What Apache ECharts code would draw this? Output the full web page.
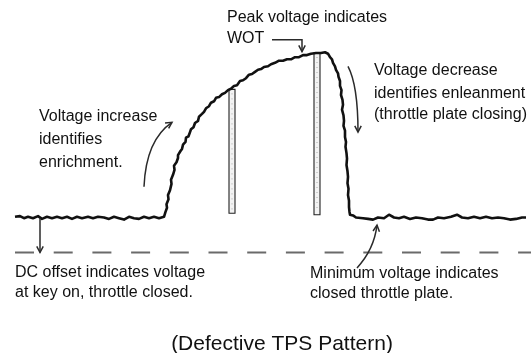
<!DOCTYPE html>
<html>
<head>
<meta charset="utf-8">
<title>Defective TPS Pattern</title>
<script src="https://cdn.jsdelivr.net/npm/echarts@6/dist/echarts.min.js"></script>
<style>
  html, body { margin: 0; padding: 0; background: #fff; }
  #chart { width: 531px; height: 353px; }
</style>
</head>
<body>
<div id="chart"></div>
<script>
// TPS signal trace: sample time and voltage (V)
const traceTime = [
  15, 20, 24, 28, 33, 38, 42, 47, 52, 57, 62, 67, 72, 77, 82, 88, 93, 98, 104, 109,
  114, 119, 124, 129, 134, 139, 144, 149, 154, 159, 164,
  165, 165.5, 167, 166.5, 168.5, 168, 170, 171.5, 171, 173, 174.5, 174, 176.5, 178, 178,
  180.5, 182, 183, 185.5, 186, 188.5, 190, 191, 193.5, 195, 198, 199, 202, 204, 206,
  209, 211, 214, 216, 219, 222, 225, 228, 231, 234, 237, 240, 243, 246, 249, 252,
  255, 258, 261, 264, 268, 271, 275, 279, 283, 287, 291, 295, 299, 303, 307, 311,
  316, 321, 325, 328, 330, 332, 333, 335, 336, 338, 338.5, 340, 340, 341.5, 341,
  342.5, 343, 342, 343.5, 344, 343.5, 345, 345, 346, 345.5, 346.5, 347, 346.5, 347.5,
  348, 347.5, 348.5, 348, 349, 349, 349.5, 350, 353, 356,
  358, 363, 368, 373, 378, 384, 389, 394, 399, 404, 410, 416, 422, 428, 433, 438,
  444, 451, 457, 462, 468, 474, 480, 486, 492, 498, 504, 510, 516, 522, 526
];
const traceVolts = [
  0.51, 0.52, 0.49, 0.51, 0.49, 0.52, 0.48, 0.51, 0.49, 0.51, 0.49, 0.51, 0.48, 0.51, 0.49, 0.51, 0.49, 0.51, 0.50, 0.48,
  0.51, 0.49, 0.47, 0.51, 0.49, 0.48, 0.51, 0.49, 0.51, 0.49, 0.51,
  0.51, 0.58, 0.64, 0.69, 0.76, 0.82, 0.89, 0.98, 1.04, 1.11, 1.18, 1.24, 1.29, 1.35, 1.39,
  1.45, 1.48, 1.54, 1.58, 1.64, 1.66, 1.72, 1.76, 1.79, 1.85, 1.88, 1.94, 1.98, 2.01, 2.06,
  2.09, 2.14, 2.16, 2.21, 2.22, 2.26, 2.28, 2.32, 2.34, 2.38, 2.39, 2.45, 2.46, 2.49, 2.54, 2.55,
  2.58, 2.61, 2.62, 2.65, 2.66, 2.69, 2.71, 2.74, 2.74, 2.76, 2.76, 2.79, 2.79, 2.82, 2.82, 2.84,
  2.85, 2.85, 2.86, 2.84, 2.79, 2.76, 2.71, 2.66, 2.61, 2.56, 2.51, 2.45, 2.38, 2.32, 2.25,
  2.18, 2.11, 2.04, 1.96, 1.88, 1.81, 1.74, 1.65, 1.58, 1.51, 1.42, 1.34, 1.25, 1.16,
  1.08, 0.99, 0.91, 0.82, 0.74, 0.65, 0.58, 0.54, 0.53, 0.50,
  0.49, 0.49, 0.48, 0.47, 0.50, 0.49, 0.54, 0.50, 0.49, 0.51, 0.48, 0.50, 0.49, 0.47, 0.47, 0.50,
  0.49, 0.51, 0.54, 0.50, 0.49, 0.51, 0.49, 0.51, 0.49, 0.50, 0.49, 0.47, 0.48, 0.50, 0.50
];

// Zero-volt reference
const zeroLevel = [[15, 0], [531, 0]];

// Dropouts in the signal: start/end time, top and bottom voltage
const glitchStart = [229, 314];
const glitchEnd = [235, 320];
const glitchTop = [2.33, 2.85];
const glitchBottom = [0.56, 0.54];

// Callout arrows (time, volts). Three points = quadratic curve, otherwise a polyline.
const calloutArrows = [
  { kind: 'poly', pts: [[272, 3.04], [302, 3.04], [302, 2.87]] },
  { kind: 'quad', pts: [[144, 0.94], [146, 1.61], [172, 1.86]] },
  { kind: 'quad', pts: [[348, 2.66], [358, 2.39], [358, 1.72]] },
  { kind: 'poly', pts: [[40, 0.49], [40, 0.0]] },
  { kind: 'quad', pts: [[357, -0.22], [374, 0.04], [377, 0.39]] }
];

// Annotation text lines: [text, left, middle-y]
const notes = [
  ['Peak voltage indicates', 227, 17.5],
  ['WOT', 227, 38.5],
  ['Voltage increase', 39, 116.5],
  ['identifies', 39, 140],
  ['enrichment.', 39, 163],
  ['Voltage decrease', 374, 71],
  ['identifies enleanment', 374, 94],
  ['(throttle plate closing)', 374, 115],
  ['DC offset indicates voltage', 15, 273],
  ['at key on, throttle closed.', 15, 293],
  ['Minimum voltage indicates', 310, 274],
  ['closed throttle plate.', 310, 294]
];
const caption = '(Defective TPS Pattern)';

const W = 531, H = 353;
const zeroY = 252.5, pxPerVolt = 70;

const chart = echarts.init(document.getElementById('chart'), null, { renderer: 'canvas' });

function arrowHead(tip, from) {
  const dx = tip[0] - from[0], dy = tip[1] - from[1];
  const a = Math.atan2(dy, dx);
  const L = 7, s = 0.48;
  return [
    [tip[0] - L * Math.cos(a - s), tip[1] - L * Math.sin(a - s)],
    tip,
    [tip[0] - L * Math.cos(a + s), tip[1] - L * Math.sin(a + s)]
  ];
}

const traceData = traceTime.map((t, i) => [t, traceVolts[i]]);

const option = {
  animation: false,
  backgroundColor: '#ffffff',
  grid: { left: 0, right: 0, top: 0, bottom: 0 },
  xAxis: { type: 'value', min: 0, max: W, show: false },
  yAxis: { type: 'value', min: -(H - zeroY) / pxPerVolt, max: zeroY / pxPerVolt, show: false },
  series: [
    {
      type: 'line',
      data: zeroLevel,
      symbol: 'none',
      lineStyle: { color: '#6a6a6a', width: 2, type: [19, 19.7] },
      z: 1
    },
    {
      type: 'custom',
      data: glitchStart.map((s, i) => [s, glitchEnd[i], glitchTop[i], glitchBottom[i]]),
      encode: { x: [0, 1], y: [2, 3] },
      renderItem: function (params, api) {
        const p0 = api.coord([api.value(0), api.value(2)]);
        const p1 = api.coord([api.value(1), api.value(3)]);
        const mid = (p0[0] + p1[0]) / 2;
        return {
          type: 'group',
          children: [
            {
              type: 'rect',
              shape: { x: p0[0], y: p0[1], width: p1[0] - p0[0], height: p1[1] - p0[1] },
              style: { fill: '#f3f3f3', stroke: '#222', lineWidth: 1.1 }
            },
            {
              type: 'line',
              shape: { x1: mid, y1: p0[1] + 4, x2: mid, y2: p1[1] - 3 },
              style: { stroke: '#a8a8a8', lineWidth: 1, lineDash: [1, 4] }
            }
          ]
        };
      },
      z: 2
    },
    {
      type: 'line',
      data: traceData,
      symbol: 'none',
      lineStyle: { color: '#111', width: 2.6, join: 'round' },
      z: 3
    },
    {
      type: 'custom',
      data: calloutArrows.map(a => a.pts[a.pts.length - 1]),
      renderItem: function (params, api) {
        const arrow = calloutArrows[params.dataIndex];
        const pts = arrow.pts.map(p => api.coord(p));
        const stroke = { stroke: '#2a2a2a', lineWidth: 1.5, fill: null };
        const children = [];
        let from;
        if (arrow.kind === 'quad') {
          children.push({
            type: 'bezierCurve',
            shape: { x1: pts[0][0], y1: pts[0][1], cpx1: pts[1][0], cpy1: pts[1][1], x2: pts[2][0], y2: pts[2][1] },
            style: stroke
          });
          from = pts[1];
        } else {
          children.push({ type: 'polyline', shape: { points: pts }, style: stroke });
          from = pts[pts.length - 2];
        }
        children.push({
          type: 'polyline',
          shape: { points: arrowHead(pts[pts.length - 1], from) },
          style: stroke
        });
        return { type: 'group', children: children };
      },
      z: 4
    }
  ],
  graphic: notes.map(n => ({
    type: 'text',
    x: n[1],
    y: n[2],
    style: {
      text: n[0],
      font: '16px "Liberation Sans", Arial, sans-serif',
      fill: '#111',
      align: 'left',
      verticalAlign: 'middle'
    }
  })).concat([{
    type: 'text',
    x: 282,
    y: 344.5,
    style: {
      text: caption,
      font: '21px "Liberation Sans", Arial, sans-serif',
      fill: '#111',
      align: 'center',
      verticalAlign: 'middle'
    }
  }])
};

chart.setOption(option);
</script>
</body>
</html>
